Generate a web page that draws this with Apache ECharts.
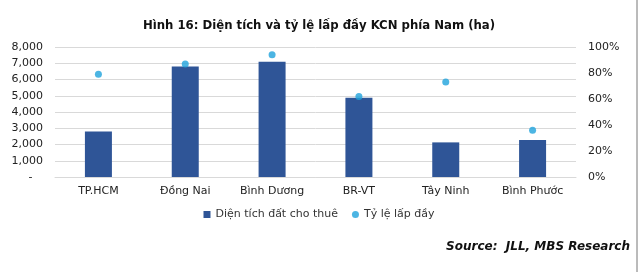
<!DOCTYPE html>
<html><head><meta charset="utf-8">
<script src="https://cdn.jsdelivr.net/npm/echarts@6/dist/echarts.min.js"></script>
<style>html,body{margin:0;padding:0;background:#fff}#c{width:638px;height:272px}</style>
</head><body><div id="c"></div>
<script>
const categories = ['TP.HCM', 'Đồng Nai', 'Bình Dương', 'BR-VT', 'Tây Ninh', 'Bình Phước'];
const areaValues = [2800, 6800, 7100, 4880, 2130, 2270];
const occupancyValues = [0.79, 0.87, 0.94, 0.62, 0.73, 0.36];
const leftTicks = { min: 0, max: 8000, interval: 1000 };
const rightTicks = { min: 0, max: 1, interval: 0.2 };
const seriesNames = ['Diện tích đất cho thuê', 'Tỷ lệ lấp đầy'];
const titleText = 'Hình 16: Diện tích và tỷ lệ lấp đầy KCN phía Nam (ha)';
const sourceText = 'Source:  JLL, MBS Research';

const FONT = 'DejaVu Sans';
const chart = echarts.init(document.getElementById('c'), null, { renderer: 'canvas' });
chart.setOption({
  animation: false,
  title: {
    text: titleText, left: 314, textAlign: 'center', top: 14,
    textStyle: { fontFamily: 'DejaVu Sans Condensed', fontSize: 13, fontWeight: 'bold', color: '#111' }
  },
  grid: { left: 55, right: 62, top: 47, bottom: 95 },
  legend: {
    data: [
      { name: seriesNames[0], icon: 'rect' },
      { name: seriesNames[1], icon: 'circle' }
    ],
    top: 204, left: 'center', itemWidth: 7, itemHeight: 7, itemGap: 14,
    textStyle: { fontFamily: FONT, fontSize: 11, color: '#333' }
  },
  xAxis: {
    type: 'category', data: categories,
    axisLine: { lineStyle: { color: '#d9d9d9' } },
    axisTick: { show: false },
    axisLabel: { fontFamily: FONT, fontSize: 11, color: '#222', margin: 9 }
  },
  yAxis: [
    {
      type: 'value', min: leftTicks.min, max: leftTicks.max, interval: leftTicks.interval,
      axisLine: { show: false }, axisTick: { show: false },
      splitLine: { lineStyle: { color: '#d9d9d9' } },
      axisLabel: {
        fontFamily: FONT, fontSize: 11, color: '#222', margin: 12,
        formatter: v => v === 0 ? '-   ' : v.toLocaleString('en-US')
      }
    },
    {
      type: 'value', min: rightTicks.min, max: rightTicks.max, interval: rightTicks.interval,
      axisLine: { show: false }, axisTick: { show: false }, splitLine: { show: false },
      axisLabel: {
        fontFamily: FONT, fontSize: 11, color: '#222', margin: 12,
        formatter: v => Math.round(v * 100) + '%'
      }
    }
  ],
  series: [
    {
      name: seriesNames[0], type: 'bar', data: areaValues, barWidth: 27,
      itemStyle: { color: '#2f5597' }
    },
    {
      name: seriesNames[1], type: 'scatter', yAxisIndex: 1, data: occupancyValues,
      symbol: 'circle', symbolSize: 7, itemStyle: { color: '#1fa2dc' }
    }
  ],
  graphic: [
    {
      type: 'text', right: 8, top: 241,
      style: { text: sourceText, fontFamily: FONT, fontSize: 12, fontWeight: 'bold', fontStyle: 'italic', fill: '#111' }
    },
    {
      type: 'line', shape: { x1: 637, y1: 0, x2: 637, y2: 272 },
      style: { stroke: '#777', lineWidth: 1 }
    }
  ]
});
</script></body></html>
